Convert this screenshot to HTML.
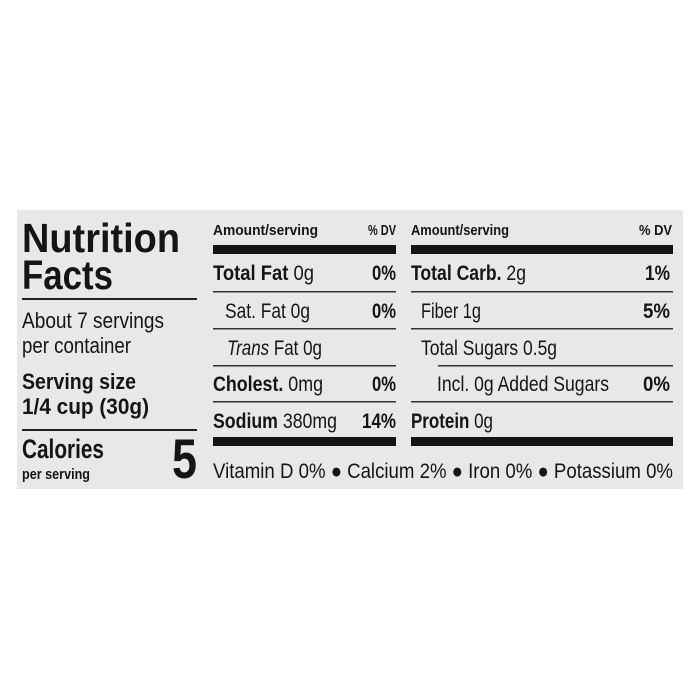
<!DOCTYPE html>
<html><head><meta charset="utf-8"><style>
html,body{margin:0;padding:0;background:#fff;width:700px;height:700px;overflow:hidden}
svg{display:block}
text{font-family:"Liberation Sans",sans-serif;fill:#151515}
.b{font-weight:bold}
</style></head><body>
<svg width="700" height="700" viewBox="0 0 700 700" xmlns="http://www.w3.org/2000/svg">
<rect x="17" y="210" width="666" height="279" fill="#e8e8e8"/>
<text x="22" y="252" class="b" font-size="41" textLength="158" lengthAdjust="spacingAndGlyphs">Nutrition</text>
<text x="22" y="289" class="b" font-size="41" textLength="91" lengthAdjust="spacingAndGlyphs">Facts</text>
<rect x="22" y="298" width="175" height="2" fill="#222"/>
<text x="22" y="328" font-size="22" textLength="142" lengthAdjust="spacingAndGlyphs">About 7 servings</text>
<text x="22" y="353" font-size="22" textLength="109" lengthAdjust="spacingAndGlyphs">per container</text>
<text x="22" y="389" class="b" font-size="22" textLength="114" lengthAdjust="spacingAndGlyphs">Serving size</text>
<text x="22" y="414" class="b" font-size="22" textLength="127" lengthAdjust="spacingAndGlyphs">1/4 cup (30g)</text>
<rect x="22" y="429" width="175" height="2" fill="#222"/>
<text x="22" y="458" class="b" font-size="27" textLength="82" lengthAdjust="spacingAndGlyphs">Calories</text>
<text x="22" y="479" class="b" font-size="15" textLength="68" lengthAdjust="spacingAndGlyphs">per serving</text>
<text x="172" y="478" class="b" font-size="56" textLength="25" lengthAdjust="spacingAndGlyphs">5</text>

<text x="213" y="235" class="b" font-size="15" textLength="105" lengthAdjust="spacingAndGlyphs">Amount/serving</text>
<text x="396" y="235" class="b" font-size="15" text-anchor="end" textLength="28" lengthAdjust="spacingAndGlyphs">% DV</text>
<rect x="213" y="245" width="183" height="9" fill="#151515"/>
<text x="213" y="280" font-size="21" textLength="101" lengthAdjust="spacingAndGlyphs"><tspan class="b">Total Fat</tspan> 0g</text>
<text x="396" y="280" class="b" font-size="21" text-anchor="end" textLength="24" lengthAdjust="spacingAndGlyphs">0%</text>
<rect x="213" y="291" width="183" height="1.5" fill="#333"/>
<text x="225" y="318" font-size="21" textLength="85" lengthAdjust="spacingAndGlyphs">Sat. Fat 0g</text>
<text x="396" y="318" class="b" font-size="21" text-anchor="end" textLength="24" lengthAdjust="spacingAndGlyphs">0%</text>
<rect x="213" y="328" width="183" height="1.5" fill="#333"/>
<text x="227" y="355" font-size="21" textLength="95" lengthAdjust="spacingAndGlyphs"><tspan font-style="italic">Trans</tspan> Fat 0g</text>
<rect x="213" y="365" width="183" height="1.5" fill="#333"/>
<text x="213" y="391" font-size="21" textLength="110" lengthAdjust="spacingAndGlyphs"><tspan class="b">Cholest.</tspan> 0mg</text>
<text x="396" y="391" class="b" font-size="21" text-anchor="end" textLength="24" lengthAdjust="spacingAndGlyphs">0%</text>
<rect x="213" y="401" width="183" height="1.5" fill="#333"/>
<text x="213" y="428" font-size="21" textLength="124" lengthAdjust="spacingAndGlyphs"><tspan class="b">Sodium</tspan> 380mg</text>
<text x="396" y="428" class="b" font-size="21" text-anchor="end" textLength="34" lengthAdjust="spacingAndGlyphs">14%</text>
<rect x="213" y="437" width="183" height="9" fill="#151515"/>

<text x="411" y="235" class="b" font-size="15" textLength="98" lengthAdjust="spacingAndGlyphs">Amount/serving</text>
<text x="672" y="235" class="b" font-size="15" text-anchor="end" textLength="33" lengthAdjust="spacingAndGlyphs">% DV</text>
<rect x="411" y="245" width="262" height="9" fill="#151515"/>
<text x="411" y="280" font-size="21" textLength="115" lengthAdjust="spacingAndGlyphs"><tspan class="b">Total Carb.</tspan> 2g</text>
<text x="670" y="280" class="b" font-size="21" text-anchor="end" textLength="25" lengthAdjust="spacingAndGlyphs">1%</text>
<rect x="411" y="291" width="262" height="1.5" fill="#333"/>
<text x="421" y="318" font-size="21" textLength="60" lengthAdjust="spacingAndGlyphs">Fiber 1g</text>
<text x="670" y="318" class="b" font-size="21" text-anchor="end" textLength="27" lengthAdjust="spacingAndGlyphs">5%</text>
<rect x="411" y="328" width="262" height="1.5" fill="#333"/>
<text x="421" y="355" font-size="21" textLength="136" lengthAdjust="spacingAndGlyphs">Total Sugars 0.5g</text>
<rect x="438" y="365" width="235" height="1.5" fill="#333"/>
<text x="437" y="391" font-size="21" textLength="172" lengthAdjust="spacingAndGlyphs">Incl. 0g Added Sugars</text>
<text x="670" y="391" class="b" font-size="21" text-anchor="end" textLength="27" lengthAdjust="spacingAndGlyphs">0%</text>
<rect x="411" y="401" width="262" height="1.5" fill="#333"/>
<text x="411" y="428" font-size="21" textLength="82" lengthAdjust="spacingAndGlyphs"><tspan class="b">Protein</tspan> 0g</text>
<rect x="411" y="437" width="262" height="9" fill="#151515"/>

<text x="213" y="478" font-size="21" textLength="460" lengthAdjust="spacingAndGlyphs">Vitamin D 0% ● Calcium 2% ● Iron 0% ● Potassium 0%</text>
</svg>
</body></html>
